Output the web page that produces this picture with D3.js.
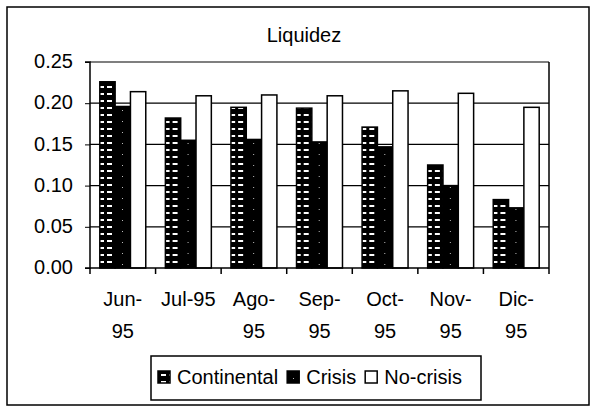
<!DOCTYPE html>
<html>
<head>
<meta charset="utf-8">
<script src="https://cdn.jsdelivr.net/npm/d3@7"></script>
<style>
  body { margin: 0; background: #fff; }
  text { font-family: "Liberation Sans", Arial, sans-serif; fill: #000; }
</style>
</head>
<body>
<div id="chart"></div>
<script>
var svgWidth = 592;
var svgHeight = 408;

// plot area inside the frame
var margin = { top: 62, right: 43, bottom: 140, left: 90 };
var width = svgWidth - margin.left - margin.right;
var height = svgHeight - margin.top - margin.bottom;

// data
var months = ["Jun-95", "Jul-95", "Ago-95", "Sep-95", "Oct-95", "Nov-95", "Dic-95"];
var monthLines = [["Jun-", "95"], ["Jul-95"], ["Ago-", "95"], ["Sep-", "95"], ["Oct-", "95"], ["Nov-", "95"], ["Dic-", "95"]];
var seriesNames = ["Continental", "Crisis", "No-crisis"];
var continental = [0.226, 0.182, 0.195, 0.194, 0.171, 0.125, 0.083];
var crisis = [0.196, 0.155, 0.156, 0.153, 0.147, 0.100, 0.073];
var noCrisis = [0.214, 0.209, 0.210, 0.209, 0.215, 0.212, 0.195];
var yTicks = [0, 0.05, 0.10, 0.15, 0.20, 0.25];

var seriesValues = [continental, crisis, noCrisis];
var fills = ["url(#pat-cont)", "url(#pat-crisis)", "#fff"];

var svg = d3.select("#chart")
  .append("svg")
  .attr("width", svgWidth)
  .attr("height", svgHeight);

// patterns for the black bars
var defs = svg.append("defs");
var pc = defs.append("pattern")
  .attr("id", "pat-cont")
  .attr("patternUnits", "userSpaceOnUse")
  .attr("width", 8)
  .attr("height", 7);
pc.append("rect").attr("width", 8).attr("height", 7).attr("fill", "#000");
pc.append("rect").attr("x", 1).attr("y", 3).attr("width", 5).attr("height", 2).attr("fill", "#fff");

var pk = defs.append("pattern")
  .attr("id", "pat-crisis")
  .attr("patternUnits", "userSpaceOnUse")
  .attr("width", 9)
  .attr("height", 11);
pk.append("rect").attr("width", 9).attr("height", 11).attr("fill", "#000");
pk.append("rect").attr("x", 5).attr("y", 4).attr("width", 1).attr("height", 1).attr("fill", "#bbb");

// outer frame
svg.append("rect")
  .attr("x", 7)
  .attr("y", 7)
  .attr("width", 582)
  .attr("height", 398)
  .attr("fill", "none")
  .attr("stroke", "#000")
  .attr("stroke-width", 1.5);

// title
svg.append("text")
  .attr("x", 304)
  .attr("y", 42)
  .attr("text-anchor", "middle")
  .attr("font-size", "20px")
  .text("Liquidez");

var chartGroup = svg.append("g")
  .attr("transform", `translate(${margin.left}, ${margin.top})`);

var x0 = d3.scaleBand()
  .domain(months)
  .range([0, width])
  .padding(0);

var x1 = d3.scaleBand()
  .domain(seriesNames)
  .range([0, x0.bandwidth()])
  .paddingInner(0)
  .paddingOuter(0.64);

var yLinearScale = d3.scaleLinear()
  .domain([0, 0.25])
  .range([height, 0]);

// gridlines
chartGroup.append("g")
  .selectAll("line")
  .data(yTicks.slice(1))
  .enter()
  .append("line")
  .attr("x1", 0)
  .attr("x2", width)
  .attr("y1", d => yLinearScale(d))
  .attr("y2", d => yLinearScale(d))
  .attr("stroke", "#000")
  .attr("stroke-width", 1.2);

// right border of the plot
chartGroup.append("line")
  .attr("x1", width)
  .attr("x2", width)
  .attr("y1", 0)
  .attr("y2", height)
  .attr("stroke", "#000")
  .attr("stroke-width", 1.5);

// bars
var groups = chartGroup.selectAll(".month")
  .data(months)
  .enter()
  .append("g")
  .attr("class", "month")
  .attr("transform", d => `translate(${x0(d)}, 0)`);

groups.selectAll("rect")
  .data((m, i) => seriesNames.map((s, j) => ({ s: s, j: j, v: seriesValues[j][i] })))
  .enter()
  .append("rect")
  .attr("x", d => x1(d.s))
  .attr("y", d => yLinearScale(d.v))
  .attr("width", x1.bandwidth())
  .attr("height", d => height - yLinearScale(d.v))
  .attr("fill", d => fills[d.j])
  .attr("stroke", "#000")
  .attr("stroke-width", 1.5);

// y axis
var leftAxis = d3.axisLeft(yLinearScale)
  .tickValues(yTicks)
  .tickFormat(d3.format(".2f"))
  .tickSize(5)
  .tickPadding(12);

var yAxis = chartGroup.append("g")
  .call(leftAxis);
yAxis.select(".domain").attr("stroke-width", 1.5).attr("d", `M-5,0H0V${height}H-5`);
yAxis.selectAll("text")
  .attr("font-size", "20px")
  .attr("font-family", "Liberation Sans, Arial, sans-serif")
  .attr("dy", "0.28em");

// x axis: ticks at category boundaries
var xAxis = chartGroup.append("g")
  .attr("transform", `translate(0, ${height})`);
xAxis.append("line")
  .attr("x1", 0)
  .attr("x2", width)
  .attr("stroke", "#000")
  .attr("stroke-width", 1.5);
xAxis.selectAll(".tk")
  .data(months.concat(["end"]))
  .enter()
  .append("line")
  .attr("class", "tk")
  .attr("x1", (d, i) => i * x0.step())
  .attr("x2", (d, i) => i * x0.step())
  .attr("y1", 0)
  .attr("y2", 6)
  .attr("stroke", "#000")
  .attr("stroke-width", 1.5);

var labels = xAxis.selectAll(".lbl")
  .data(months)
  .enter()
  .append("text")
  .attr("class", "lbl")
  .attr("font-size", "20px")
  .attr("text-anchor", "middle")
  .attr("x", d => x0(d) + x0.bandwidth() / 2)
  .attr("y", 38);

labels.selectAll("tspan")
  .data((d, i) => monthLines[i])
  .enter()
  .append("tspan")
  .attr("x", function() { return d3.select(this.parentNode).attr("x"); })
  .attr("dy", (d, i) => i === 0 ? 0 : 32)
  .text(d => d);

// legend
var legend = svg.append("g");
legend.append("rect")
  .attr("x", 151)
  .attr("y", 356)
  .attr("width", 330)
  .attr("height", 44)
  .attr("fill", "#fff")
  .attr("stroke", "#000")
  .attr("stroke-width", 1.5);

var lx = 158;
seriesNames.forEach(function(name, j) {
  legend.append("rect")
    .attr("x", lx)
    .attr("y", 371)
    .attr("width", 12)
    .attr("height", 12)
    .attr("fill", fills[j])
    .attr("stroke", "#000")
    .attr("stroke-width", 1.5);
  var t = legend.append("text")
    .attr("x", lx + 19)
    .attr("y", 384)
    .attr("font-size", "20px")
    .text(name);
  lx = lx + 19 + t.node().getComputedTextLength() + 9;
});
</script>
</body>
</html>
